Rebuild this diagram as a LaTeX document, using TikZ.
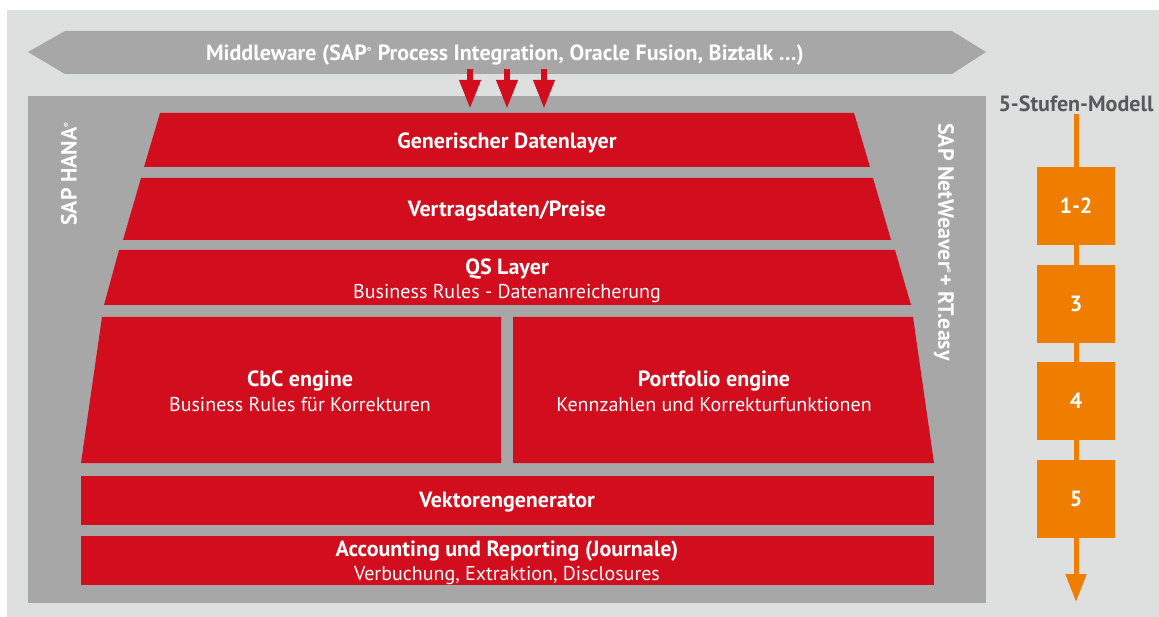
\documentclass[tikz,border=0pt]{standalone}
\usepackage{fontspec}
\setmainfont{PT Sans}
\usetikzlibrary{arrows.meta}
\definecolor{bglight}{HTML}{DEE0DF}
\definecolor{bgdark}{HTML}{A7A7A7}
\definecolor{sapred}{HTML}{D20E1E}
\definecolor{sorange}{HTML}{EE7D00}
\definecolor{tgray}{HTML}{58595B}
\newcommand{\bsize}{\fontsize{22}{24.5}\selectfont\bfseries}
\newcommand{\rsize}{\fontsize{20}{24.5}\selectfont}
\newcommand{\regmark}{\textsuperscript{\scriptsize ®}}
\begin{document}
\begin{tikzpicture}[x=1pt,y=-1pt,
  txt/.style={text=white,font=\rsize,align=center,inner sep=0pt},
  btxt/.style={txt,font=\bsize},
  layer/.style={fill=sapred},
  stage/.style={fill=sorange,minimum width=78pt,minimum height=78pt,inner sep=0pt,
    text=white,font=\bsize},
  feed/.style={draw=sapred,line width=6.5pt,-{Triangle[width=20pt,length=29pt]}},
  flow/.style={draw=sorange,line width=5pt,-{Triangle[width=20pt,length=28pt]}}
]
\useasboundingbox (0,0) rectangle (1159,617);
\fill[bglight] (7,10) rectangle (1159,617);
% middleware band
\fill[bgdark] (28,52) -- (65,31) -- (952,31) -- (986,52) -- (952,74) -- (65,74) -- cycle;
\node[btxt] (mw) at (505,55) {Middleware (SAP\regmark{} Process Integration, Oracle Fusion, Biztalk \dots)};
% platform
\fill[bgdark] (28,96) rectangle (986,603);
\node[btxt,rotate=90] (hana) at (69,174) {SAP HANA\regmark};
\node[btxt,rotate=-90] (nw) at (944,242) {SAP NetWeaver\regmark+ RT.easy};
% layers
\fill[layer] (160,113) -- (854,113) -- (870,167) -- (144,167) -- cycle;
\node[btxt] (l1) at (507,142.5) {Generischer Datenlayer};
\fill[layer] (141,178) -- (873,178) -- (891,240) -- (123,240) -- cycle;
\node[btxt] (l2) at (507,211.5) {Vertragsdaten/Preise};
\fill[layer] (119,250) -- (895,250) -- (911,305) -- (104,305) -- cycle;
\node[txt] (l3) at (507,281) {{\bsize QS Layer}\\Business Rules - Datenanreicherung};
\fill[layer] (102,317) -- (501,317) -- (501,463) -- (81,463) -- cycle;
\node[txt] (l4a) at (300,391.5) {{\bsize CbC engine}\\Business Rules für Korrekturen};
\fill[layer] (513,317) -- (913,317) -- (934,463) -- (513,463) -- cycle;
\node[txt] (l4b) at (714,391.5) {{\bsize Portfolio engine}\\Kennzahlen und Korrekturfunktionen};
\fill[layer] (81,476) rectangle (934,525);
\node[btxt] (l5) at (507,502.5) {Vektorengenerator};
\fill[layer] (81,536) rectangle (934,585);
\node[txt] (l6) at (507,563) {{\bsize Accounting und Reporting (Journale)}\\Verbuchung, Extraktion, Disclosures};
% feed arrows
\coordinate (f1s) at (470,69); \coordinate (f1e) at (470,109);
\coordinate (f2s) at (507,69); \coordinate (f2e) at (507,109);
\coordinate (f3s) at (544,69); \coordinate (f3e) at (544,109);
\draw[feed] (f1s) -- (f1e);
\draw[feed] (f2s) -- (f2e);
\draw[feed] (f3s) -- (f3e);
% five-stage model
\node[text=tgray,font=\bsize,inner sep=0pt] (title) at (1076,104) {5-Stufen-Modell};
\coordinate (ftop) at (1076,114);
\coordinate (fend) at (1076,602);
\draw[flow] (ftop) -- (fend);
\node[stage,text depth=0pt] (s1) at (1076,206) {1-2};
\node[stage,text depth=0pt] (s2) at (1076,304) {3};
\node[stage,text depth=0pt] (s3) at (1076,401) {4};
\node[stage,text depth=0pt] (s4) at (1076,499) {5};
\end{tikzpicture}
\end{document}
